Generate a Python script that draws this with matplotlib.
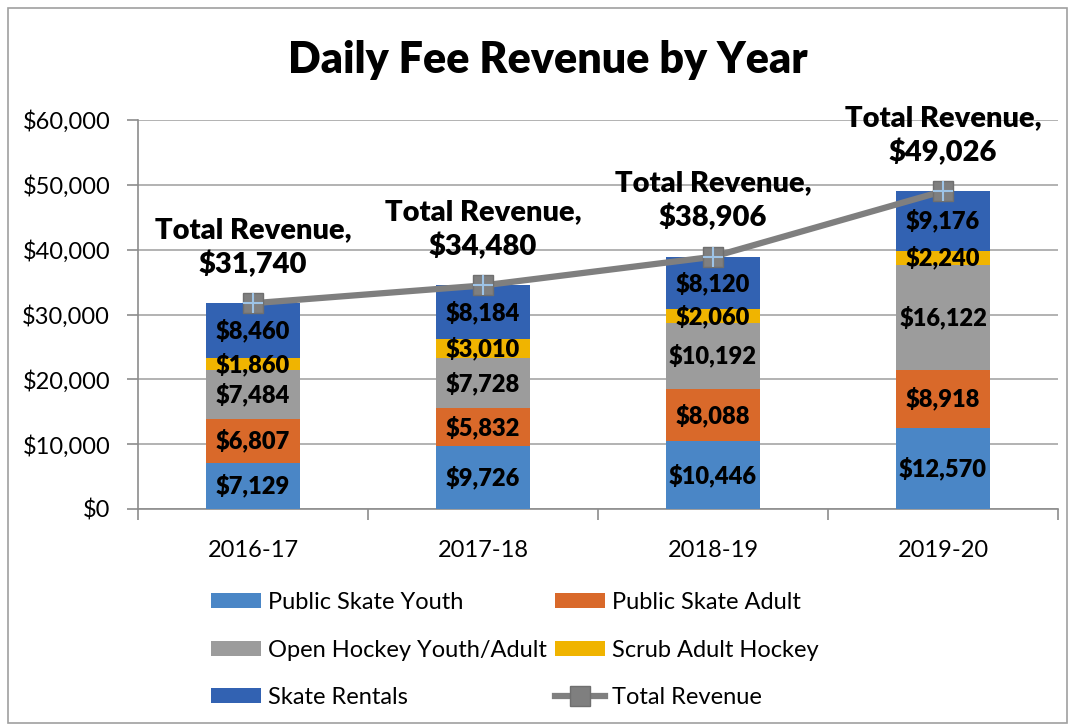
import numpy as np
import matplotlib.pyplot as plt
from matplotlib.ticker import FuncFormatter, FixedLocator

plt.rcParams['font.family'] = ['Lato', 'DejaVu Sans']

years = ["2016-17", "2017-18", "2018-19", "2019-20"]
youth = [7129, 9726, 10446, 12570]
adult = [6807, 5832, 8088, 8918]
hockey = [7484, 7728, 10192, 16122]
scrub = [1860, 3010, 2060, 2240]
rentals = [8460, 8184, 8120, 9176]
total = [31740, 34480, 38906, 49026]

series = [
    ("Public Skate Youth", youth, "#4a86c6"),
    ("Public Skate Adult", adult, "#d9692a"),
    ("Open Hockey Youth/Adult", hockey, "#9c9c9c"),
    ("Scrub Adult Hockey", scrub, "#f0b400"),
    ("Skate Rentals", rentals, "#3262b2"),
]

fig = plt.figure(figsize=(10.75, 7.25), dpi=100)
ax = fig.add_axes([138/1075, 1-509/725, 920/1075, 389/725])

# outer chart border
fig.patches.append(plt.Rectangle((8/1075, 2/725), 1-16/1075, 1-10/725, transform=fig.transFigure,
                                 fill=False, edgecolor="#a0a0a0", lw=1.2))

x = np.arange(len(years))
bottom = np.zeros(len(years))
handles = []
for name, vals, col in series:
    b = ax.bar(x, vals, 0.41, bottom=bottom, color=col, label=name, zorder=3)
    handles.append(b)
    for xi, v, bt in zip(x, vals, bottom):
        ax.text(xi, bt + v/2, "${:,}".format(v), ha="center", va="center",
                fontsize=17, fontweight="heavy", color="black", zorder=5)
    bottom += np.array(vals)

ln, = ax.plot(x, total, color="#7f7f7f", lw=4.5, marker="s", markersize=14,
              markerfacecolor="#7f7f7f", markeredgecolor="#6f6f6f", zorder=6, label="Total Revenue")
ax.plot(x, total, ls="none", marker="+", markersize=14, markeredgecolor="#9dc3e6",
        markeredgewidth=1.5, zorder=7)

for xi, t in zip(x, total):
    ax.text(xi, t + 3900, "Total Revenue,\n${:,}".format(t), ha="center", va="bottom",
            fontsize=21, fontweight="heavy", linespacing=1.35, zorder=8)

ax.set_ylim(0, 60000)
ax.set_xlim(-0.5, 3.5)
ax.set_yticks(range(0, 60001, 10000))
ax.yaxis.set_major_formatter(FuncFormatter(lambda v, p: "${:,.0f}".format(v)))
ax.grid(axis="y", color="#a6a6a6", lw=1.2, zorder=0)
ax.set_xticks(x)
ax.set_xticklabels(years)
ax.xaxis.set_minor_locator(FixedLocator([-0.5, 0.5, 1.5, 2.5, 3.5]))
ax.tick_params(axis="x", which="major", length=0, pad=22, labelsize=17)
ax.tick_params(axis="x", which="minor", length=8, color="#8c8c8c", width=1.2)
ax.tick_params(axis="y", length=8, color="#8c8c8c", width=1.2, labelsize=17, pad=12)
for s in ["top", "right"]:
    ax.spines[s].set_visible(False)
for s in ["left", "bottom"]:
    ax.spines[s].set_color("#8c8c8c")
    ax.spines[s].set_linewidth(1.2)

fig.text(548/1075, 1-60/725, "Daily Fee Revenue by Year", ha="center", va="center",
         fontsize=31, fontweight="heavy")

leg_handles = handles + [ln]
leg_labels = [s[0] for s in series] + ["Total Revenue"]
# reorder for row-wise filling with 2 columns
order = [0, 2, 4, 1, 3, 5]
fig.legend([leg_handles[i] for i in order], [leg_labels[i] for i in order],
           ncol=2, loc="upper left", bbox_to_anchor=(190/1075, 1-571/725),
           frameon=False, fontsize=17, handlelength=2.1, handleheight=0.6,
           labelspacing=1.12, columnspacing=0.35, handletextpad=0.3)

fig.savefig("out.png", dpi=100)
